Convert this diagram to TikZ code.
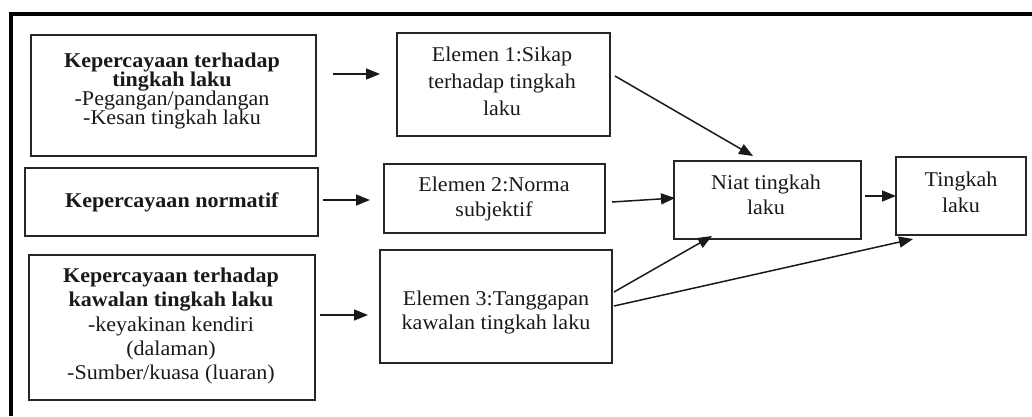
\documentclass[tikz,border=0pt]{standalone}
\usepackage{fontspec}
\setmainfont{Liberation Serif}[FakeStretch=1.05]
\usetikzlibrary{arrows.meta,calc}
\newcommand\mytight{\lineskiplimit-50pt\relax}
\begin{document}
\begin{tikzpicture}[x=1pt,y=-1pt,
  box/.style={draw=black!85, line width=1.6pt, inner sep=0pt, outer sep=0pt},
  txt/.style={align=center, inner sep=0pt, text=black!90},
  arr/.style={draw=black!90, line width=1.5pt, -{Triangle[length=14pt,width=11pt]}}]
\useasboundingbox (0,0) rectangle (1032,416);
% outer frame
\draw[line width=4pt, line join=miter] (11,416) -- (11,14) -- (1032,14);

% boxes
\node[box, minimum width=285pt, minimum height=121pt] (A) at (173.5,95.5) {};
\node[box, minimum width=293pt, minimum height=68pt] (B) at (171.5,202) {};
\node[box, minimum width=286pt, minimum height=145pt] (C) at (172,327.5) {};
\node[box, minimum width=213pt, minimum height=103pt] (E1) at (503.5,84.5) {};
\node[box, minimum width=221pt, minimum height=69pt] (E2) at (494.5,198.5) {};
\node[box, minimum width=232pt, minimum height=113pt] (E3) at (496,306.5) {};
\node[box, minimum width=187pt, minimum height=78pt] (N) at (767.5,200) {};
\node[box, minimum width=130pt, minimum height=78pt] (T) at (961,196) {};

% texts
\node[txt, font={\fontsize{21}{19.3}\selectfont\mytight}] (tA) at (172,91)
  {\textbf{Kepercayaan terhadap}\\\textbf{tingkah laku}\\-Pegangan/pandangan\\-Kesan tingkah laku};
\node[txt, font={\fontsize{21}{26}\selectfont}] (tB) at (172,202) {\textbf{Kepercayaan normatif}};
\node[txt, font={\fontsize{21}{24.3}\selectfont\mytight}] (tC) at (171,326)
  {\textbf{Kepercayaan terhadap}\\\textbf{kawalan tingkah laku}\\-keyakinan kendiri\\(dalaman)\\-Sumber/kuasa (luaran)};
\node[txt, font={\fontsize{21}{27}\selectfont}] (tE1) at (502,81)
  {Elemen 1:Sikap\\terhadap tingkah\\laku};
\node[txt, font={\fontsize{21}{25.7}\selectfont}] (tE2) at (494,199)
  {Elemen 2:Norma\\subjektif};
\node[txt, font={\fontsize{21}{24}\selectfont\mytight}] (tE3) at (496,312)
  {Elemen 3:Tanggapan\\kawalan tingkah laku};
\node[txt, font={\fontsize{21}{25}\selectfont}] (tN) at (766,195)
  {Niat tingkah\\laku};
\node[txt, font={\fontsize{21}{25.5}\selectfont}] (tT) at (961,192.5)
  {Tingkah\\laku};

% free-standing arrows between columns
\coordinate (r1) at (0,74);
\coordinate (r2) at (0,200);
\coordinate (r3) at (0,315);
\draw[arr, shorten <=17pt, shorten >=17pt] (A.east|-r1) -- (E1.west|-r1);
\draw[arr, shorten <=5pt, shorten >=14pt] (B.east|-r2) -- (E2.west|-r2);
\draw[arr, shorten <=5pt, shorten >=12pt] (C.east|-r3) -- (E3.west|-r3);

% arrows into Niat / Tingkah
\draw[arr] ($(E1.east)+(5,-8.5)$) -- ($(N.north)+(-14.5,-5)$);
\draw[arr] ($(E2.east)+(7,3.5)$) -- ($(N.west)+(1,-2)$);
\draw[arr] ($(E3.east)+(2,-14.5)$) -- ($(N.south)+(-55.5,-3)$);
\draw[arr] ($(E3.east)+(2,-0.5)$) -- ($(T.south)+(-48,4)$);
\draw[arr, shorten <=4pt] (N.east|-T.west) -- (T.west);
\end{tikzpicture}
\end{document}
